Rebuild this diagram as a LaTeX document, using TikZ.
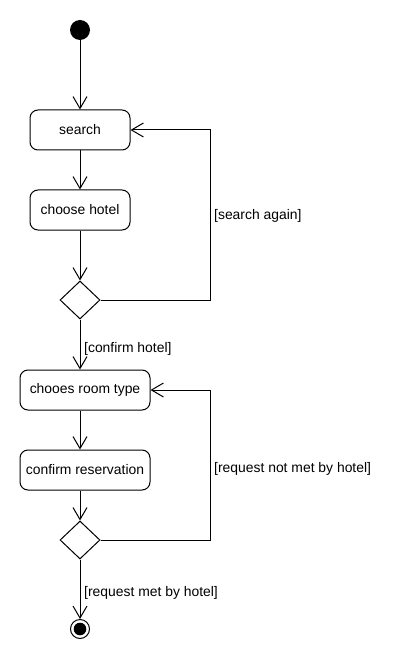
\documentclass[tikz,border=0pt]{standalone}
\usepackage{fontspec}
\setmainfont{Liberation Sans}
\usetikzlibrary{arrows.meta,shapes.geometric}
\begin{document}
\begin{tikzpicture}[x=1pt,y=-1pt,
  every node/.style={font=\fontsize{13.9}{16}\selectfont},
  act/.style={draw,line width=1pt,rounded corners=8pt,minimum height=40pt,inner sep=0pt},
  dec/.style={draw,line width=1pt,diamond,minimum width=40pt,minimum height=38pt,inner sep=0pt},
  flow/.style={line width=1pt,-{Straight Barb[length=12pt,width=14pt,line width=1pt]}},
  guard/.style={anchor=west,inner sep=0pt}]
\useasboundingbox (0,0) rectangle (400,660);
\node[circle,fill=black,minimum size=20pt,inner sep=0pt] (start) at (80,30) {};
\node[act,minimum width=100pt] (search) at (80,130) {search};
\node[act,minimum width=100pt] (choose) at (80,210) {choose hotel};
\node[dec] (d1) at (80,300) {};
\node[act,minimum width=130pt] (room) at (85,390) {chooes room type};
\node[act,minimum width=130pt] (confirm) at (85,470) {confirm reservation};
\node[dec] (d2) at (80,540) {};
\node[circle,draw,line width=1pt,minimum size=19pt,inner sep=0pt] (end) at (80,629) {};
\fill (end.center) circle (6.3pt);
\coordinate (c1) at (210,300);
\coordinate (c2) at (210,130);
\coordinate (c3) at (210,540);
\coordinate (c4) at (210,390);
\draw[flow] (start) -- (search);
\draw[flow] (search) -- (choose);
\draw[flow] (choose) -- (d1);
\draw[flow] (d1.south) -- (room.north -| d1);
\draw[flow] (room.south -| d1) -- (confirm.north -| d1);
\draw[flow] (confirm.south -| d1) -- (d2.north);
\draw[flow] (d2.south) -- (end.north);
\draw[flow] (d1.east) -- (c1) -- (c2) -- (search.east);
\draw[flow] (d2.east) -- (c3) -- (c4) -- (room.east);
\node[guard] (g1) at (214,216) {[search again]};
\node[guard] (g2) at (84,349) {[confirm hotel]};
\node[guard] (g3) at (214,469) {[request not met by hotel]};
\node[guard] (g4) at (84,593) {[request met by hotel]};
\end{tikzpicture}
\end{document}
